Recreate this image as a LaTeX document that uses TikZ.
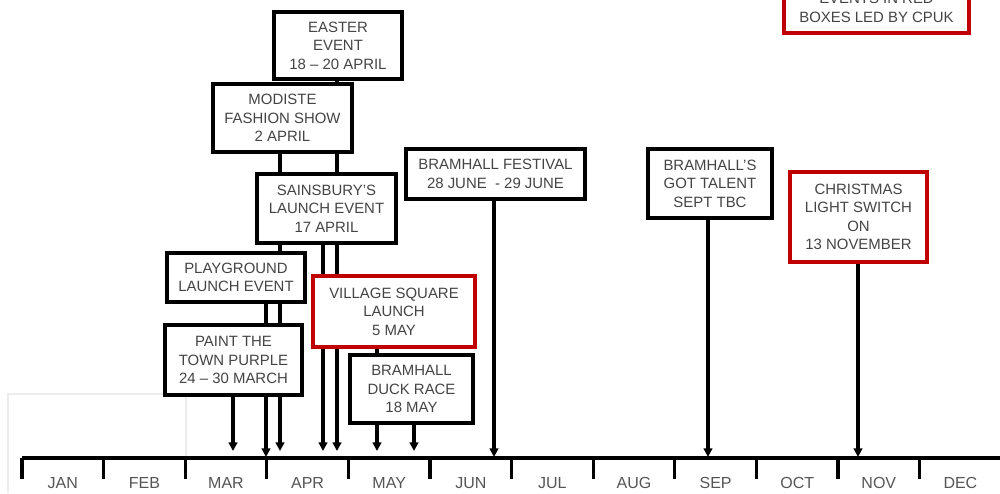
\documentclass[tikz,border=0pt]{standalone}
\usepackage{fontspec}
\setmainfont{Liberation Sans}
\usetikzlibrary{arrows.meta,backgrounds}
\definecolor{cpured}{RGB}{192,0,0}
\definecolor{txtgrey}{RGB}{68,68,68}
\definecolor{monthgrey}{RGB}{85,85,85}
\tikzset{
  evbox/.style={draw=black, line width=2.4pt, fill=white, align=center, inner sep=0pt,
    text=txtgrey, font=\fontsize{11.2}{13.9}\selectfont},
  redbox/.style={evbox, draw=cpured, line width=3.4pt},
  conn/.style={line width=2.4pt, -{Triangle[length=6.5pt,width=6.5pt]}},
  tickline/.style={line width=2.3pt},
  month/.style={text=monthgrey, font=\fontsize{12}{14}\selectfont, inner sep=0pt},
  faint/.style={draw=gray!14, line width=0.8pt}
}
\begin{document}
\begin{tikzpicture}[x=0.75pt,y=-0.75pt]
\useasboundingbox (0,0) rectangle (1000,493);
\clip (0,0) rectangle (1000,493);
% faint frame
\draw[faint] (8,493) -- (8,394) -- (186,394) -- (186,458);
% boxes
\node[evbox, minimum width=96pt, minimum height=50.25pt] (easter) at (338,45.5) {EASTER\\EVENT\\18 – 20 APRIL};
\node[evbox, minimum width=104.25pt, minimum height=51pt] (modiste) at (282.5,118) {MODISTE\\FASHION SHOW\\2 APRIL};
\node[evbox, minimum width=104.25pt, minimum height=51.75pt] (sains) at (326.5,208.5) {SAINSBURY'S\\LAUNCH EVENT\\17 APRIL};
\node[evbox, minimum width=103.5pt, minimum height=36.75pt] (play) at (236,277.5) {PLAYGROUND\\LAUNCH EVENT};
\node[evbox, minimum width=102.75pt, minimum height=52.5pt] (paint) at (233.5,360) {PAINT THE\\TOWN PURPLE\\24 – 30 MARCH};
\node[redbox, minimum width=121.5pt, minimum height=53.25pt] (village) at (394,311.5) {VILLAGE SQUARE\\LAUNCH\\5 MAY};
\node[evbox, minimum width=92.25pt, minimum height=51pt] (duck) at (411.5,389) {BRAMHALL\\DUCK RACE\\18 MAY};
\node[evbox, minimum width=134.25pt, minimum height=37.5pt] (festival) at (495.5,174) {BRAMHALL FESTIVAL\\28 JUNE\ \ - 29 JUNE};
\node[evbox, minimum width=93pt, minimum height=51.75pt] (talent) at (710,183.5) {BRAMHALL'S\\GOT TALENT\\SEPT TBC};
\node[redbox, minimum width=102.75pt, minimum height=67.5pt] (xmas) at (858.5,217) {CHRISTMAS\\LIGHT SWITCH\\ON\\13 NOVEMBER};
\node[redbox, minimum width=138.75pt, minimum height=37.5pt] (legend) at (876.5,8) {EVENTS IN RED\\BOXES LED BY CPUK};
% axis
\coordinate (axL) at (22,458);
\coordinate (axR) at (1000,458);
\draw[line width=3pt] (axL) -- (axR);
\foreach \i in {0,...,11} {
  \draw[tickline] (22+81.6*\i,458) -- (22+81.6*\i,479);
}
\foreach \m [count=\i from 0] in {JAN,FEB,MAR,APR,MAY,JUN,JUL,AUG,SEP,OCT,NOV,DEC} {
  \node[month] (m\i) at (62.8+81.6*\i,483) {\m};
}
% arrow end points
\coordinate (tPaint) at (233,451);
\coordinate (tPlay) at (266,457);
\coordinate (tModiste) at (280,451);
\coordinate (tSains) at (323,451);
\coordinate (tEaster) at (337,451);
\coordinate (tVillage) at (377,451);
\coordinate (tDuck) at (414,451);
\coordinate (tFest) at (494,457);
\coordinate (tTalent) at (708,457);
\coordinate (tXmas) at (858,457);
\begin{scope}[on background layer]
\draw[conn] (paint.south -| tPaint) -- (tPaint);
\draw[conn] (play.south -| tPlay) -- (tPlay);
\draw[conn] (modiste.south -| tModiste) -- (tModiste);
\draw[conn] (sains.south -| tSains) -- (tSains);
\draw[conn] (easter.south -| tEaster) -- (tEaster);
\draw[conn] (village.south -| tVillage) -- (tVillage);
\draw[conn] (duck.south -| tDuck) -- (tDuck);
\draw[conn] (festival.south -| tFest) -- (tFest);
\draw[conn] (talent.south -| tTalent) -- (tTalent);
\draw[conn] (xmas.south -| tXmas) -- (tXmas);
\end{scope}
\end{tikzpicture}
\end{document}
